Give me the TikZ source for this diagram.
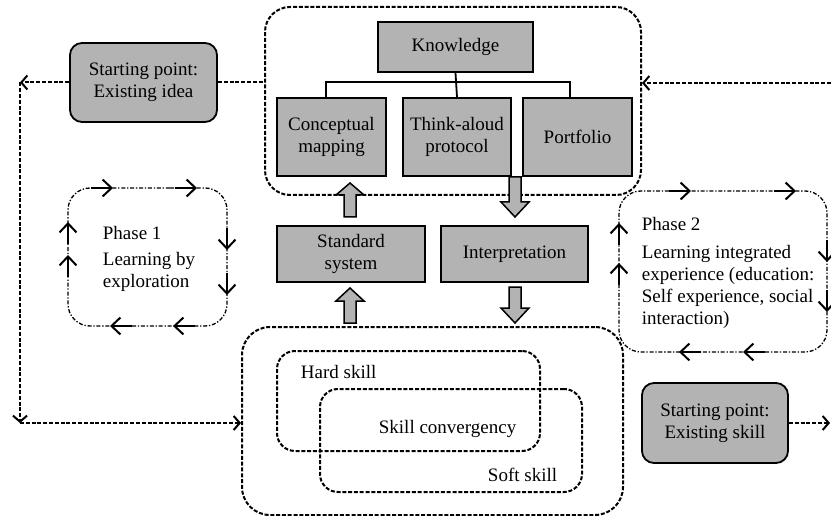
\documentclass[tikz,border=0pt]{standalone}
\usepackage{fontspec}
\setmainfont{Liberation Serif}
\usetikzlibrary{arrows.meta}
\definecolor{boxgray}{RGB}{179, 179, 179}

% block arrow: x, tail y, head base y, tip y
\newcommand{\blockarrow}[4]{%
  \filldraw[fill=boxgray, draw=black, line width=1.5pt, line join=miter]
    (#1-6,#2) -- (#1-6,#3) -- (#1-14,#3) -- (#1,#4) -- (#1+14,#3) -- (#1+6,#3) -- (#1+6,#2) -- cycle;}

\begin{document}
\begin{tikzpicture}[x=1pt, y=-1pt, line width=1.8pt,
  every node/.style={font=\fontsize{19}{22}\selectfont},
  graybox/.style={draw, fill=boxgray, align=center, inner sep=0pt},
  startbox/.style={graybox, rounded corners=12pt},
  groupbox/.style={draw, line width=2pt, dash pattern=on 4pt off 1.8pt, rounded corners=25pt, inner sep=0pt},
  startlink/.style={line width=2pt, dash pattern=on 4pt off 1.8pt, -{Straight Barb[length=6pt, width=14pt, line width=2pt]}},
  cycleline/.style={line width=1.3pt, dash pattern=on 4pt off 1.8pt on 1.3pt off 1.8pt, rounded corners=22pt},
  loopstep/.style={line width=2pt, -{Straight Barb[length=9pt, width=17pt, line width=2pt]}},
]

  \useasboundingbox (0,0) rectangle (831,516);

  % knowledge group
  \node[groupbox, minimum width=376pt, minimum height=188pt] (kbox) at (453,101) {};
  \node[graybox, minimum width=155pt, minimum height=50pt] (know) at (455.5,47) {Knowledge};
  \node[graybox, minimum width=109pt, minimum height=78pt] (cmap) at (331.5,137) {Conceptual\\mapping};
  \node[graybox, minimum width=108pt, minimum height=78pt] (think) at (457,137) {Think-aloud\\protocol};
  \node[graybox, minimum width=109pt, minimum height=78pt] (port) at (577.5,137) {Portfolio};

  \coordinate (fork) at (457,82);
  \draw (know.south) -- (think.north);
  \draw ([xshift=-5.5pt]cmap.north) |- (fork) -| ([xshift=-7.5pt]port.north);

  % skill group
  \node[groupbox, minimum width=381pt, minimum height=188pt, rounded corners=28pt] (sbox) at (432.5,421) {};
  \node[groupbox, minimum width=263pt, minimum height=100pt, rounded corners=18pt] (hard) at (408.5,401) {};
  \node[groupbox, minimum width=262pt, minimum height=103pt, rounded corners=18pt] (soft) at (451,440.5) {};
  \node[anchor=base west, inner sep=0pt] (hardlab) at (300,378) {Hard skill};
  \node[anchor=base west, inner sep=0pt] (convlab) at (378,433) {Skill convergency};
  \node[anchor=base east, inner sep=0pt] (softlab) at (558,481) {Soft skill};

  % middle
  \node[graybox, minimum width=148pt, minimum height=56pt] (std) at (351,254) {Standard\\system};
  \node[graybox, minimum width=147pt, minimum height=56pt] (interp) at (514.5,254) {Interpretation};

  \blockarrow{350}{217}{195}{183}
  \blockarrow{350}{323}{301}{288}
  \blockarrow{515}{177}{202}{217}
  \blockarrow{515}{287}{308}{323}

  % starting points
  \node[startbox, minimum width=147pt, minimum height=79pt] (idea) at (143.5,82.5) {Starting point:\\Existing idea};
  \node[startbox, minimum width=146pt, minimum height=80pt] (skill) at (715,423) {Starting point:\\Existing skill};

  \draw[line width=2pt, dash pattern=on 4pt off 1.8pt] (idea.east) -- (idea.east -| kbox.west);
  \coordinate (ideaturn) at (20,82.5);
  \coordinate (skillturn) at (20,423);
  \draw[startlink] (idea.west) -- (ideaturn);
  \draw[startlink] (ideaturn) -- (skillturn);
  \draw[startlink] (skillturn) -- (skillturn -| sbox.west);

  \coordinate (rightin) at (831,83);
  \coordinate (rightout) at (830,423);
  \draw[startlink] (rightin) -- (rightin -| kbox.east);
  \draw[startlink] (skill.east) -- (rightout);

  % phase 1
  \draw[cycleline] (148,188) -- (227,188) -- (227,326) -- (68,326) -- (68,188) -- cycle;
  \foreach \x in {113, 197} \draw[loopstep] (\x-22,188) -- (\x,188);
  \foreach \y in {250, 295} \draw[loopstep] (227,\y-22) -- (227,\y);
  \foreach \x in {110, 173} \draw[loopstep] (\x+22,326) -- (\x,326);
  \foreach \y in {222, 255} \draw[loopstep] (68,\y+22) -- (68,\y);
  \node[anchor=north west, align=left, inner sep=0pt] (ph1) at (102,225)
    {Phase 1\\[4pt]Learning by\\exploration};

  % phase 2
  \draw[cycleline] (720,191) -- (827,191) -- (827,352) -- (619,352) -- (619,191) -- cycle;
  \foreach \x in {691, 796} \draw[loopstep] (\x-22,191) -- (\x,191);
  \foreach \y in {262, 312} \draw[loopstep] (827,\y-22) -- (827,\y);
  \foreach \x in {679, 743} \draw[loopstep] (\x+22,352) -- (\x,352);
  \foreach \y in {223, 263} \draw[loopstep] (619,\y+22) -- (619,\y);
  \node[anchor=north west, align=left, inner sep=0pt] (ph2) at (641,216)
    {Phase 2\\[6.5pt]Learning integrated\\experience (education:\\Self experience, social\\interaction)};

\end{tikzpicture}
\end{document}
